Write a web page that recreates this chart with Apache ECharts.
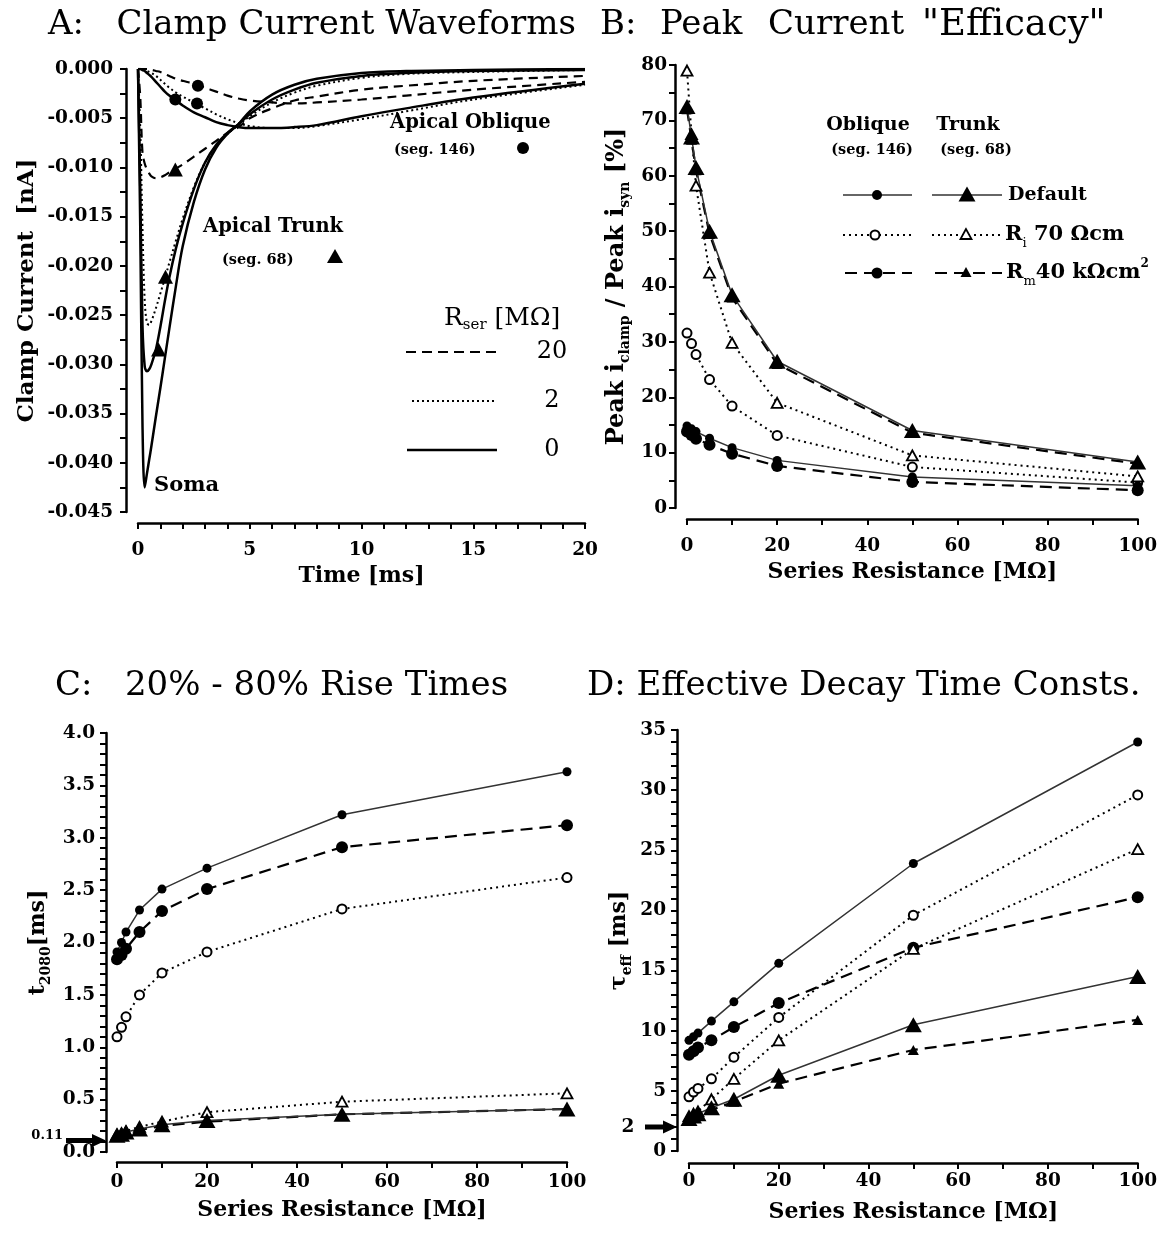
<!DOCTYPE html>
<html>
<head>
<meta charset="utf-8">
<script src="https://cdn.jsdelivr.net/npm/echarts@6/dist/echarts.min.js"></script>
<style>
  html, body { margin: 0; padding: 0; background: #fff; }
  #main { width: 1160px; height: 1252px; }
</style>
</head>
<body>
<div id="main"></div>
<script>
// A: clamp current waveforms, time [ms] vs current [nA]
var tA = [0, 0.1, 0.2, 0.3, 0.4, 0.5, 0.6, 0.8, 1.0, 1.2, 1.4, 1.7, 2.0, 2.5, 3.0, 3.5, 4.0, 4.5, 5, 6, 7, 8, 10, 12, 15, 20];
var somaR0 = [0, -0.016, -0.036, -0.0425, -0.0411, -0.0397, -0.0383, -0.0353, -0.0324, -0.0294, -0.0264, -0.0220, -0.0180, -0.0135, -0.0102, -0.0080, -0.0066, -0.0056, -0.0043, -0.0026, -0.0016, -0.0010, -0.0004, -0.0002, -0.0001, 0];
var trunkR0 = [0, -0.012, -0.026, -0.0302, -0.0307, -0.0305, -0.0300, -0.0285, -0.0262, -0.0236, -0.0212, -0.0182, -0.0157, -0.0122, -0.0095, -0.0077, -0.0065, -0.0056, -0.0046, -0.0031, -0.0021, -0.0014, -0.0007, -0.0004, -0.0002, -0.0001];
var trunkR2 = [0, -0.006, -0.016, -0.0235, -0.0258, -0.0260, -0.0256, -0.0243, -0.0228, -0.0213, -0.0197, -0.0174, -0.0152, -0.0120, -0.0095, -0.0078, -0.0066, -0.0057, -0.0048, -0.0034, -0.0024, -0.0017, -0.0009, -0.0005, -0.0003, -0.0001];
var trunkR20 = [0, -0.0028, -0.0085, -0.0096, -0.0102, -0.0106, -0.0109, -0.0111, -0.0110, -0.0108, -0.0105, -0.0101, -0.0097, -0.0089, -0.0081, -0.0073, -0.0065, -0.0059, -0.0050, -0.0040, -0.0032, -0.0028, -0.0021, -0.0017, -0.0012, -0.0007];
var obliqueR0 = [0, 0, -0.0001, -0.0002, -0.0004, -0.0006, -0.0008, -0.0013, -0.0018, -0.0023, -0.0027, -0.0032, -0.0037, -0.0044, -0.0049, -0.0054, -0.0057, -0.0059, -0.0060, -0.0060, -0.0059, -0.0057, -0.0048, -0.0040, -0.0029, -0.0015];
var obliqueR2 = [0, 0, 0, -0.0001, -0.0002, -0.0003, -0.0004, -0.0007, -0.0011, -0.0015, -0.0019, -0.0024, -0.0028, -0.0034, -0.0040, -0.0046, -0.0051, -0.0055, -0.0058, -0.0060, -0.0060, -0.0058, -0.0051, -0.0043, -0.0031, -0.0016];
var obliqueR20 = [0, 0, 0, 0, 0, -0.0001, -0.0001, -0.0002, -0.0003, -0.0005, -0.0007, -0.0010, -0.0012, -0.0015, -0.0019, -0.0023, -0.0027, -0.0030, -0.0032, -0.0034, -0.0035, -0.0034, -0.0031, -0.0027, -0.0021, -0.0013];
var trunkMarks = [[0.92, -0.0285], [1.23, -0.0211], [1.67, -0.0102]];
var obliqueMarks = [[1.67, -0.0031], [2.64, -0.0035], [2.68, -0.0017]];

// B-D: series resistance [MOhm]
var rSer = [0, 1, 2, 5, 10, 20, 50, 100];

// B: peak i_clamp / peak i_syn [%]
var bOblDef = [14.8, 14.3, 13.8, 12.6, 10.9, 8.6, 5.6, 4.0];
var bOblRi = [31.6, 29.7, 27.7, 23.2, 18.4, 13.1, 7.4, 4.6];
var bOblRm = [13.8, 13.2, 12.5, 11.4, 9.8, 7.6, 4.7, 3.2];
var bTrDef = [72.5, 67, 61.5, 50, 38.5, 26.5, 14, 8.3];
var bTrRi = [79, 67.5, 58.2, 42.5, 29.8, 19, 9.5, 5.7];
var bTrRm = [72, 66.5, 61, 49.5, 38, 26, 13.6, 8.0];

// C: 20-80% rise time [ms]
var cOblDef = [1.91, 2.0, 2.1, 2.31, 2.51, 2.71, 3.22, 3.63];
var cOblRm = [1.84, 1.88, 1.94, 2.1, 2.3, 2.51, 2.91, 3.12];
var cOblRi = [1.1, 1.19, 1.29, 1.5, 1.71, 1.91, 2.32, 2.62];
var cTrDef = [0.16, 0.17, 0.19, 0.22, 0.26, 0.30, 0.36, 0.41];
var cTrRi = [0.17, 0.18, 0.2, 0.24, 0.29, 0.38, 0.48, 0.56];
var cTrRm = [0.15, 0.17, 0.18, 0.21, 0.25, 0.29, 0.36, 0.41];
var cSynRise = 0.11;

// D: effective decay time constant [ms]
var dOblDef = [9.2, 9.5, 9.8, 10.8, 12.4, 15.6, 23.9, 34.0];
var dOblRm = [8.0, 8.3, 8.6, 9.2, 10.3, 12.3, 16.9, 21.1];
var dOblRi = [4.5, 4.9, 5.2, 6.0, 7.8, 11.1, 19.6, 29.6];
var dTrDef = [2.7, 2.9, 3.1, 3.6, 4.3, 6.3, 10.5, 14.5];
var dTrRi = [2.9, 3.1, 3.3, 4.3, 6.0, 9.2, 16.8, 25.1];
var dTrRm = [2.6, 2.8, 2.9, 3.4, 4.1, 5.6, 8.4, 10.9];
var dSynDecay = 2;

var FONT = '"DejaVu Serif", "Liberation Serif", serif';
var INK = '#000';

var chart = echarts.init(document.getElementById('main'));

function pairs(xs, ys) {
  return xs.map(function (x, i) { return [x, ys[i]]; });
}

function xAxisCfg(i, max, interval, minorSplit, offset, margin, name, nameGap) {
  return {
    type: 'value', gridIndex: i, min: 0, max: max, interval: interval, offset: offset,
    axisLine: { show: true, onZero: false, lineStyle: { color: INK, width: 2.5 } },
    axisTick: { show: true, length: 6, lineStyle: { color: INK, width: 2 } },
    minorTick: { show: true, splitNumber: minorSplit, length: 6, lineStyle: { color: INK, width: 2 } },
    splitLine: { show: false },
    axisLabel: { color: INK, fontFamily: FONT, fontWeight: 'bold', fontSize: 18.5, margin: margin },
    name: name, nameLocation: 'middle', nameGap: nameGap,
    nameTextStyle: { color: INK, fontFamily: FONT, fontWeight: 'bold', fontSize: 22, lineHeight: 30 }
  };
}

function yAxisCfg(i, min, max, interval, minorSplit, offset, margin, fmt, name, nameGap, nameSize) {
  return {
    type: 'value', gridIndex: i, min: min, max: max, interval: interval, offset: offset,
    axisLine: { show: true, onZero: false, lineStyle: { color: INK, width: 2.5 } },
    axisTick: { show: true, length: 6, lineStyle: { color: INK, width: 2 } },
    minorTick: { show: true, splitNumber: minorSplit, length: 6, lineStyle: { color: INK, width: 2 } },
    splitLine: { show: false },
    axisLabel: { color: INK, fontFamily: FONT, fontWeight: 'bold', fontSize: 18.5, margin: margin, formatter: fmt },
    name: name, nameLocation: 'middle', nameGap: nameGap, nameRotate: 90,
    nameTextStyle: {
      color: INK, fontFamily: FONT, fontWeight: 'bold', fontSize: nameSize, lineHeight: 30,
      rich: {
        s: { fontFamily: FONT, fontWeight: 'bold', fontSize: 14, lineHeight: 14, verticalAlign: 'bottom', color: INK }
      }
    }
  };
}

// panel A curves
function waveform(ys, dash, width) {
  return {
    type: 'line', xAxisIndex: 0, yAxisIndex: 0, data: pairs(tA, ys),
    showSymbol: false, smooth: 0.35, silent: true,
    lineStyle: { color: INK, width: width, type: dash }
  };
}

var looks = {
  oblDef: { line: { type: 'solid', width: 1.5, color: '#333' }, symbol: 'circle', size: 9, item: { color: INK, opacity: 1 } },
  oblRi: { line: { type: [2, 4], width: 2, color: INK }, symbol: 'circle', size: 9, item: { color: '#fff', borderColor: INK, borderWidth: 2, opacity: 1 } },
  oblRm: { line: { type: [12, 7], width: 2.2, color: INK }, symbol: 'circle', size: 12, item: { color: INK, opacity: 1 } },
  trDef: { line: { type: 'solid', width: 1.5, color: '#333' }, symbol: 'triangle', size: [17, 15], item: { color: INK, opacity: 1 } },
  trRi: { line: { type: [2, 4], width: 2, color: INK }, symbol: 'triangle', size: [11, 10], item: { color: '#fff', borderColor: INK, borderWidth: 1.8, opacity: 1 } },
  trRm: { line: { type: [12, 7], width: 2.2, color: INK }, symbol: 'triangle', size: [11, 10], item: { color: INK, opacity: 1 } }
};

function rSeries(g, ys, look) {
  var l = looks[look];
  return {
    type: 'line', xAxisIndex: g, yAxisIndex: g, data: pairs(rSer, ys), silent: true,
    symbol: l.symbol, symbolSize: l.size, showSymbol: true,
    lineStyle: l.line, itemStyle: l.item
  };
}

function marks(data, symbol, size) {
  return {
    type: 'scatter', xAxisIndex: 0, yAxisIndex: 0, data: data, symbol: symbol, symbolSize: size,
    itemStyle: { color: INK, opacity: 1 }, silent: true, z: 5
  };
}

var fmtA = function (v) { return Math.abs(v) < 1e-9 ? '0.000' : v.toFixed(3); };
var fmtC = function (v) { return v.toFixed(1); };
var fmtInt = function (v) { return String(Math.round(v)); };

var option = {
  animation: false,
  backgroundColor: '#fff',
  grid: [
    { left: 138, top: 69, width: 447, height: 443 },
    { left: 687, top: 65, width: 451, height: 443 },
    { left: 117, top: 733, width: 450, height: 419 },
    { left: 689, top: 730, width: 450, height: 421 }
  ],
  xAxis: [
    xAxisCfg(0, 20, 5, 5, 11, 18, 'Time [ms]', 34),
    xAxisCfg(1, 100, 20, 2, 11, 18, 'Series Resistance [MΩ]', 38),
    xAxisCfg(2, 100, 20, 2, 10, 11, 'Series Resistance [MΩ]', 33),
    xAxisCfg(3, 100, 20, 2, 12, 9, 'Series Resistance [MΩ]', 34)
  ],
  yAxis: [
    yAxisCfg(0, -0.045, 0, 0.005, 2, 12, 13, fmtA, 'Clamp Current  [nA]', 84, 23),
    yAxisCfg(1, 0, 80, 10, 2, 12, 8, fmtInt, 'Peak i{s|clamp} / Peak i{s|syn} [%]', 43, 24),
    yAxisCfg(2, 0, 4, 0.5, 5, 11, 11, fmtC, 't{s|2080}[ms]', 53, 22),
    yAxisCfg(3, 0, 35, 5, 5, 12, 11, fmtInt, 'τ{s|eff} [ms]', 43, 22)
  ],
  series: [
    waveform(obliqueR20, [9, 6], 2.2),
    waveform(obliqueR2, [2, 3], 2),
    waveform(obliqueR0, 'solid', 2.5),
    waveform(trunkR20, [9, 6], 2.2),
    waveform(trunkR2, [2, 3], 2),
    waveform(trunkR0, 'solid', 2.5),
    waveform(somaR0, 'solid', 2.5),
    marks(obliqueMarks, 'circle', 12),
    marks(trunkMarks, 'triangle', [15, 14]),

    rSeries(1, bOblRi, 'oblRi'), rSeries(1, bOblRm, 'oblRm'), rSeries(1, bOblDef, 'oblDef'),
    rSeries(1, bTrRi, 'trRi'), rSeries(1, bTrRm, 'trRm'), rSeries(1, bTrDef, 'trDef'),

    rSeries(2, cOblRi, 'oblRi'), rSeries(2, cOblRm, 'oblRm'), rSeries(2, cOblDef, 'oblDef'),
    rSeries(2, cTrRi, 'trRi'), rSeries(2, cTrRm, 'trRm'), rSeries(2, cTrDef, 'trDef'),

    rSeries(3, dOblRi, 'oblRi'), rSeries(3, dOblRm, 'oblRm'), rSeries(3, dOblDef, 'oblDef'),
    rSeries(3, dTrRi, 'trRi'), rSeries(3, dTrRm, 'trRm'), rSeries(3, dTrDef, 'trDef')
  ]
};
chart.setOption(option);

// ---- annotations, legends, titles ----
function txt(x, y, text, size, weight, align, rich) {
  var el = {
    type: 'text', x: x, y: y, silent: true,
    style: {
      text: text, fill: INK, align: align || 'left', verticalAlign: 'middle',
      font: (weight || 'normal') + ' ' + size + 'px ' + FONT
    }
  };
  if (rich) { el.style.rich = rich; el.style.lineHeight = 30; }
  return el;
}
function seg(x1, x2, y, dash, width, color) {
  return { type: 'line', silent: true, shape: { x1: x1, y1: y, x2: x2, y2: y },
    style: { stroke: color || INK, lineWidth: width, lineDash: dash || null } };
}
function dot(cx, cy, r, open) {
  return { type: 'circle', silent: true, shape: { cx: cx, cy: cy, r: r },
    style: { fill: open ? '#fff' : INK, stroke: INK, lineWidth: open ? 2 : 0 } };
}
function tri(cx, cy, w, h, open) {
  return { type: 'polygon', silent: true,
    shape: { points: [[cx, cy - h / 2], [cx - w / 2, cy + h / 2], [cx + w / 2, cy + h / 2]] },
    style: { fill: open ? '#fff' : INK, stroke: INK, lineWidth: open ? 1.8 : 0 } };
}
function arrow(x0, tip, y) {
  return { type: 'polygon', silent: true,
    shape: { points: [[x0, y - 2.5], [tip - 14, y - 2.5], [tip - 14, y - 6.5], [tip, y], [tip - 14, y + 6.5], [tip - 14, y + 2.5], [x0, y + 2.5]] },
    style: { fill: INK } };
}

var subStyle = function (size) {
  return { fontFamily: FONT, fontSize: size, lineHeight: size, verticalAlign: 'bottom', fill: INK, color: INK };
};

var pC = chart.convertToPixel({ gridIndex: 2 }, [0, cSynRise]);
var pD = chart.convertToPixel({ gridIndex: 3 }, [0, dSynDecay]);
var tipC = pC[0] - 11, tipD = pD[0] - 12;

var graphics = [
  txt(48, 25, 'A:   Clamp Current Waveforms', 34),
  txt(600, 25, 'B:', 34),
  txt(660, 25, 'Peak', 34),
  txt(768, 25, 'Current', 34),
  txt(922, 25, '"Efficacy"', 37),
  txt(55, 686, 'C:   20% - 80% Rise Times', 34),
  txt(587, 686, 'D: Effective Decay Time Consts.', 34),

  // panel A labels
  txt(390, 123, 'Apical Oblique', 19.5, 'bold'),
  txt(394, 150, '(seg. 146)', 14.5, 'bold'),
  dot(523, 148, 6),
  txt(203, 227, 'Apical Trunk', 19.5, 'bold'),
  txt(222, 260, '(seg. 68)', 14.5, 'bold'),
  tri(335, 256, 16, 14),
  txt(154, 486, 'Soma', 21, 'bold'),
  txt(444, 318, 'R{s|ser} [MΩ]', 25, 'normal', 'left', { s: subStyle(15) }),
  seg(406, 497, 352, [10, 6], 2.2),
  txt(552, 352, '20', 24, 'normal', 'center'),
  seg(412, 497, 401, [2, 3], 2),
  txt(552, 401, '2', 24, 'normal', 'center'),
  seg(407, 497, 450, null, 2.5),
  txt(552, 450, '0', 24, 'normal', 'center'),

  // panel B legend
  txt(868, 125, 'Oblique', 19, 'bold', 'center'),
  txt(968, 125, 'Trunk', 19, 'bold', 'center'),
  txt(872, 150, '(seg. 146)', 14.5, 'bold', 'center'),
  txt(976, 150, '(seg. 68)', 14.5, 'bold', 'center'),
  seg(843, 912, 195, null, 1.5, '#333'), dot(877, 195, 5),
  seg(932, 1002, 195, null, 1.5, '#333'), tri(967, 194, 17, 15),
  txt(1008, 195, 'Default', 19, 'bold'),
  seg(843, 912, 235, [2, 4], 2), dot(875, 235, 4.5, true),
  seg(932, 1002, 235, [2, 4], 2), tri(966, 234, 11, 10, true),
  txt(1005, 235, 'R{s|i} 70 Ωcm', 21, 'bold', 'left', { s: subStyle(13) }),
  seg(845, 912, 273, [12, 7], 2.2), dot(877, 273, 5.5),
  seg(935, 1002, 273, [12, 7], 2.2), tri(966, 272, 11, 10),
  txt(1006, 273, 'R{s|m}40 kΩcm{p|2}', 21, 'bold', 'left', {
    s: subStyle(13),
    p: { fontFamily: FONT, fontWeight: 'bold', fontSize: 12, lineHeight: 12, verticalAlign: 'top', fill: INK, color: INK }
  }),

  // reference arrows
  arrow(66, tipC, pC[1]),
  txt(63, pC[1] - 5, '0.11', 13, 'bold', 'right'),
  arrow(645, tipD, pD[1]),
  txt(628, pD[1], '2', 18.5, 'bold', 'center')
];

chart.setOption({ graphic: graphics });
</script>
</body>
</html>
